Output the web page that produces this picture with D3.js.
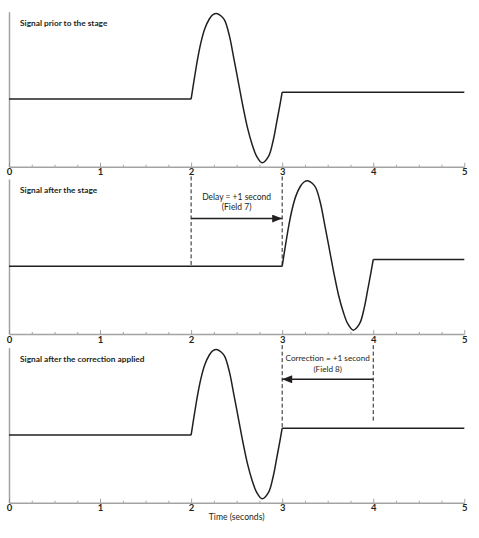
<!DOCTYPE html>
<html>
<head>
<meta charset="utf-8">
<script src="https://cdn.jsdelivr.net/npm/d3@7"></script>
<style>
  html, body { margin: 0; padding: 0; background: #fff; }
  svg { display: block; }
  text { font-family: Lato, "Open Sans", sans-serif; fill: #231f20; }
</style>
</head>
<body>
<svg id="chart" width="479" height="538"></svg>
<script>
// ---- data ----
const timeTicks = [0, 1, 2, 3, 4, 5];
const minorTicks = [0.25, 0.5, 0.75, 1.25, 1.5, 1.75, 2.25, 2.5, 2.75, 3.25, 3.5, 3.75, 4.25, 4.5, 4.75];
// one wave, time relative to its start (s), amplitude relative to the pre-wave level
const waveT = [0, 0.04, 0.075, 0.11, 0.15, 0.20, 0.24, 0.28, 0.33, 0.37, 0.42, 0.47, 0.52, 0.57, 0.62, 0.67, 0.72, 0.78, 0.85, 0.90, 0.94, 0.975, 1.0];
const waveV = [0, 0.27, 0.49, 0.67, 0.82, 0.935, 0.985, 1.0, 0.97, 0.915, 0.74, 0.47, 0.19, -0.09, -0.34, -0.53, -0.67, -0.745, -0.67, -0.49, -0.27, -0.07, 0.08];
const preLevel = 0;
const postLevel = 0.08;
const waveStart = [2, 3, 2];          // wave onset (s) in each panel
const panelTitles = ["Signal prior to the stage", "Signal after the stage", "Signal after the correction applied"];
const annoLines = [null, ["Delay = +1 second", "(Field 7)"], ["Correction = +1 second", "(Field 8)"]];
const arrowFrom = [null, 2, 4];
const arrowTo = [null, 3, 3];
const xLabel = "Time (seconds)";

// ---- layout ----
const svg = d3.select("#chart");
const x = d3.scaleLinear().domain([0, 5]).range([9, 464.3]);
const axisYs = [166.7, 334, 502.7];
const panelH = 155;
const yDomain = [-0.79, 1.02];
const curveColor = "#231f20";
const axisColor = "#a3a3a3";

// arrow marker
const defs = svg.append("defs");
defs.append("marker")
  .attr("id", "arrowhead")
  .attr("markerUnits", "userSpaceOnUse")
  .attr("viewBox", "0 0 10 8")
  .attr("refX", 10).attr("refY", 4)
  .attr("markerWidth", 11).attr("markerHeight", 8)
  .attr("orient", "auto")
  .append("path").attr("d", "M0,0 L10,4 L0,8 Z").attr("fill", curveColor);

const lineLin = d3.line().x(d => x(d[0]));
const lineCurve = d3.line().x(d => x(d[0])).curve(d3.curveCatmullRom.alpha(0.5));

axisYs.forEach((ay, i) => {
  const y = d3.scaleLinear().domain(yDomain).range([ay, ay - panelH]);
  const g = svg.append("g");

  // y axis line
  g.append("g").attr("transform", `translate(${x(0)},0)`)
    .call(d3.axisLeft(y).tickValues([]).tickSizeOuter(0))
    .call(s => s.select(".domain").attr("stroke", axisColor).attr("stroke-width", 1.5));

  // minor ticks
  g.append("g").attr("transform", `translate(0,${ay})`)
    .call(d3.axisBottom(x).tickValues(minorTicks).tickSize(-2).tickSizeOuter(0).tickFormat(""))
    .call(s => s.select(".domain").remove())
    .call(s => s.selectAll(".tick line").attr("stroke", "#8a8a8a").attr("stroke-width", 0.8));

  // major axis
  g.append("g").attr("transform", `translate(0,${ay})`)
    .call(d3.axisBottom(x).tickValues(timeTicks).tickSize(-4).tickSizeOuter(0).tickPadding(2).tickFormat(d3.format("d")))
    .call(s => s.select(".domain").attr("stroke", axisColor).attr("stroke-width", 1.5))
    .call(s => s.selectAll(".tick line").attr("stroke", "#8a8a8a").attr("stroke-width", 0.8))
    .call(s => s.selectAll(".tick text")
      .attr("font-family", "Lato, sans-serif").attr("font-size", 9.5).attr("font-weight", 700)
      .attr("fill", "#333"));

  // title
  g.append("text")
    .attr("x", 20).attr("y", ay - 143)
    .attr("dominant-baseline", "middle")
    .attr("font-size", 8.3).attr("font-weight", 700)
    .text(panelTitles[i]);

  // signal
  const s0 = waveStart[i];
  const wave = waveT.map((t, k) => [s0 + t, waveV[k]]);
  lineLin.y(d => y(d[1]));
  lineCurve.y(d => y(d[1]));
  g.append("path").attr("d", lineLin([[0, preLevel], [s0, preLevel]]))
    .attr("fill", "none").attr("stroke", curveColor).attr("stroke-width", 1.5);
  g.append("path").attr("d", lineCurve(wave))
    .attr("fill", "none").attr("stroke", curveColor).attr("stroke-width", 1.5).attr("stroke-linejoin", "round");
  g.append("path").attr("d", lineLin([[s0 + 1, postLevel], [5, postLevel]]))
    .attr("fill", "none").attr("stroke", curveColor).attr("stroke-width", 1.5);

  // annotations
  if (annoLines[i]) {
    const a = arrowFrom[i], b = arrowTo[i];
    const dashTop = 1.05;
    const dashSpec = i === 1
      ? [[a, preLevel], [b, preLevel]]
      : [[b, postLevel], [a, 0.15]];
    dashSpec.forEach(([t, bottom]) => {
      g.append("line")
        .attr("x1", x(t)).attr("x2", x(t))
        .attr("y1", y(dashTop)).attr("y2", y(bottom))
        .attr("stroke", curveColor).attr("stroke-width", 1)
        .attr("stroke-dasharray", "4,2.5");
    });
    const arrowV = i === 1 ? 0.558 : 0.651;
    g.append("line")
      .attr("x1", x(a)).attr("x2", x(b))
      .attr("y1", y(arrowV)).attr("y2", y(arrowV))
      .attr("stroke", curveColor).attr("stroke-width", 1.5)
      .attr("marker-end", "url(#arrowhead)");
    const cx = (x(a) + x(b)) / 2;
    const lineVs = i === 1 ? [0.80, 0.686] : [0.885, 0.76];
    annoLines[i].forEach((txt, k) => {
      g.append("text")
        .attr("x", cx).attr("y", y(lineVs[k]))
        .attr("text-anchor", "middle").attr("dominant-baseline", "middle")
        .attr("font-size", i === 2 ? 8.2 : 8.5)
        .text(txt);
    });
  }
});

// x-axis label
svg.append("text")
  .attr("x", (x(2) + x(3)) / 2).attr("y", 517.7)
  .attr("text-anchor", "middle").attr("dominant-baseline", "middle")
  .attr("font-size", 8.6)
  .text(xLabel);
</script>
</body>
</html>
